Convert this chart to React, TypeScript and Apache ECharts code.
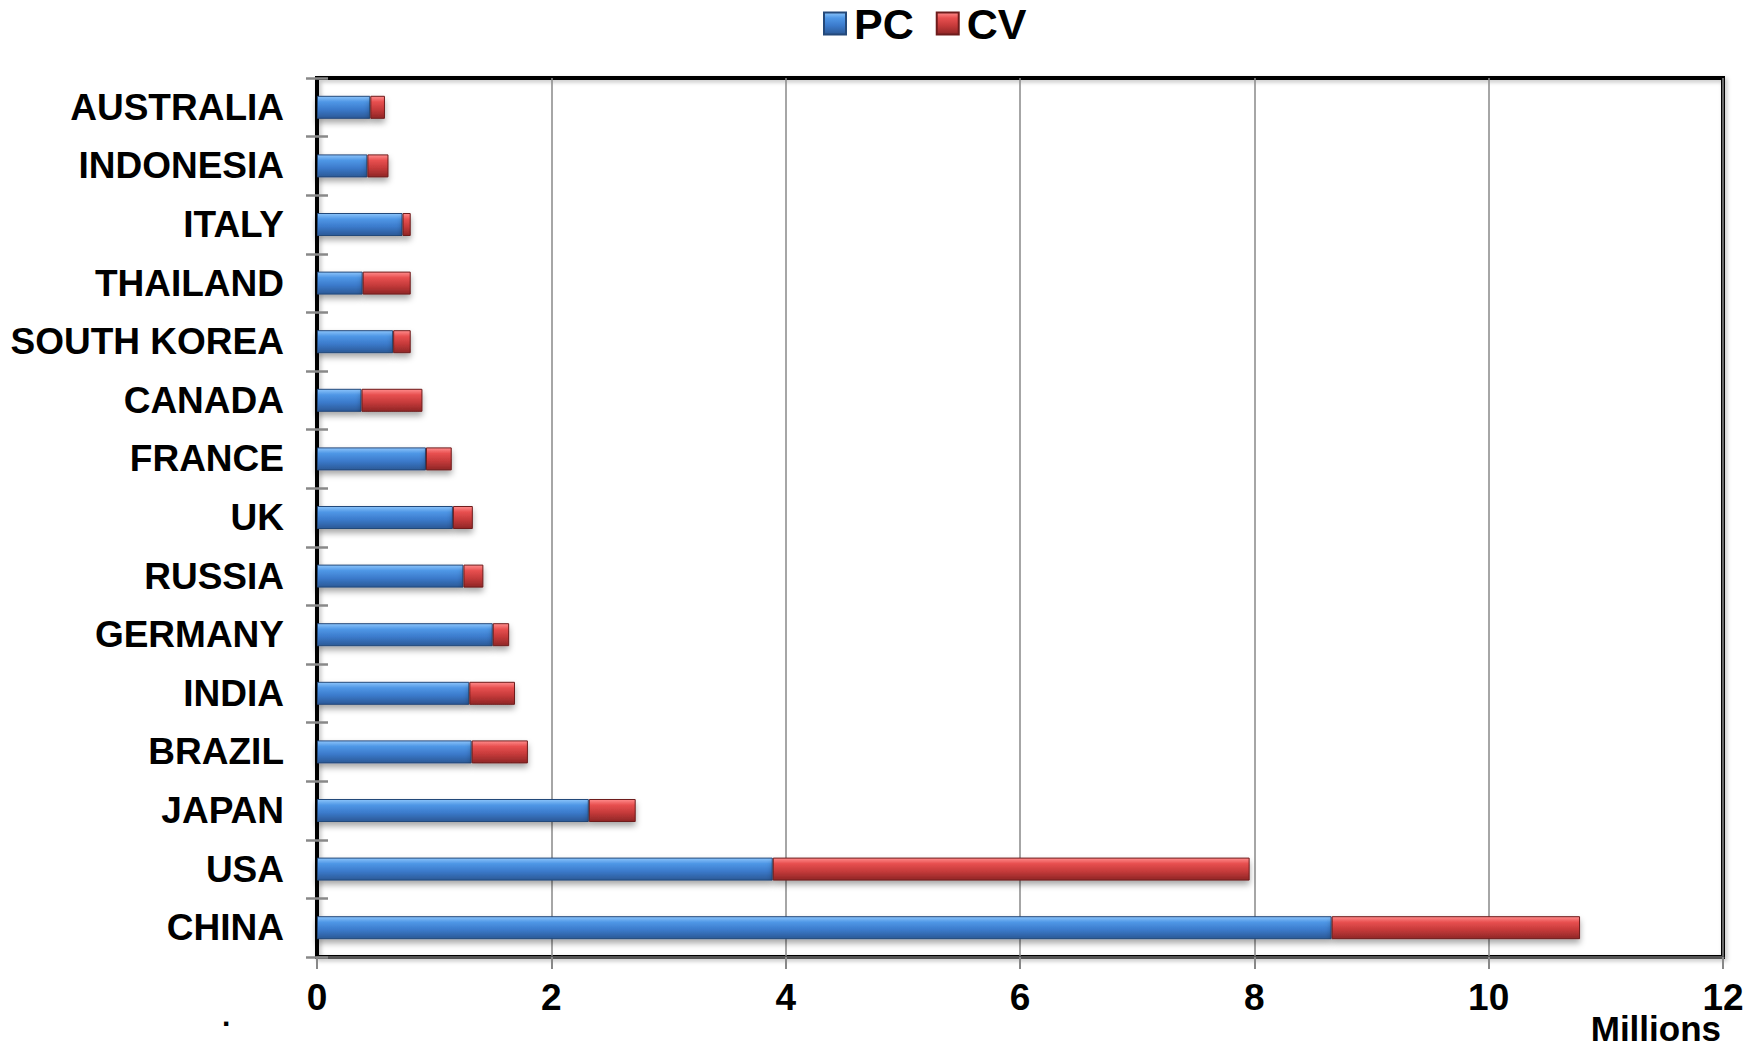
import React, { useEffect, useRef } from "react";
import * as echarts from "echarts";

const categories = [
  "CHINA", "USA", "JAPAN", "BRAZIL", "INDIA", "GERMANY", "RUSSIA", "UK",
  "FRANCE", "CANADA", "SOUTH KOREA", "THAILAND", "ITALY", "INDONESIA", "AUSTRALIA",
];
const pcValues = [8.66, 3.89, 2.32, 1.32, 1.3, 1.5, 1.25, 1.16, 0.93, 0.38, 0.65, 0.39, 0.73, 0.43, 0.455];
const cvValues = [2.12, 4.07, 0.4, 0.48, 0.39, 0.14, 0.17, 0.17, 0.22, 0.52, 0.15, 0.41, 0.07, 0.18, 0.125];
const xTicks = [0, 2, 4, 6, 8, 10, 12];

const FONT = "Liberation Sans, Arial, sans-serif";

const blue = new echarts.graphic.LinearGradient(0, 0, 0, 1, [
  { offset: 0, color: "#8cc4fa" },
  { offset: 0.25, color: "#4f97e6" },
  { offset: 0.6, color: "#3b7acb" },
  { offset: 1, color: "#2b5996" },
]);
const red = new echarts.graphic.LinearGradient(0, 0, 0, 1, [
  { offset: 0, color: "#ff8c8c" },
  { offset: 0.25, color: "#e85050" },
  { offset: 0.6, color: "#c53a3a" },
  { offset: 1, color: "#8f2626" },
]);

export default function App() {
  const ref = useRef<HTMLDivElement>(null);
  useEffect(() => {
    const chart = echarts.init(ref.current!, null, { renderer: "svg" });
    const yBase = {
      type: "category" as const,
      data: categories,
    };
    chart.setOption({
      animation: false,
      backgroundColor: "#fff",
      legend: {
        left: 818,
        top: -3,
        itemWidth: 22,
        itemHeight: 22,
        itemGap: 22,
        icon: "rect",
        textStyle: { fontFamily: FONT, fontWeight: "bold", fontSize: 43, color: "#000", padding: [0, 0, 0, 3] },
        data: ["PC", "CV"],
      },
      grid: {
        left: 317,
        right: 35,
        top: 78,
        bottom: 93,
        show: true,
        borderColor: "#000",
        borderWidth: 4,
        shadowColor: "rgba(0,0,0,0.25)",
        shadowBlur: 4,
        shadowOffsetX: 2,
        shadowOffsetY: 2,
      },
      xAxis: {
        type: "value",
        min: 0,
        max: 12,
        interval: 2,
        axisLine: { show: true, lineStyle: { color: "#555", width: 3 } },
        axisTick: { show: true, length: 12, lineStyle: { color: "#888", width: 2 } },
        splitLine: { show: true, lineStyle: { color: "#888", width: 1.5 } },
        axisLabel: {
          margin: 25,
          fontFamily: FONT,
          fontWeight: "bold",
          fontSize: 37,
          lineHeight: 30,
          color: "#000",
          formatter: (v: number) => (xTicks.includes(v) ? String(v) : ""),
        },
      },
      yAxis: [
        {
          ...yBase,
          axisLine: { show: true, lineStyle: { color: "#000", width: 4 } },
          axisTick: { show: true, length: 11, lineStyle: { color: "#888", width: 2.5 } },
          axisLabel: {
            margin: 33,
            fontFamily: FONT,
            fontWeight: "bold",
            fontSize: 37,
            color: "#000",
          },
        },
        {
          ...yBase,
          position: "left",
          axisLine: { show: false },
          axisTick: { show: true, inside: true, length: 11, lineStyle: { color: "#888", width: 2.5 } },
          axisLabel: { show: false },
        },
      ],
      series: [
        {
          name: "PC",
          type: "bar",
          stack: "total",
          data: pcValues,
          barWidth: 23,
          itemStyle: {
            color: blue,
            borderColor: "#24497a",
            borderWidth: 1,
            shadowColor: "rgba(0,0,0,0.35)",
            shadowBlur: 6,
            shadowOffsetY: 4,
          },
        },
        {
          name: "CV",
          type: "bar",
          stack: "total",
          data: cvValues,
          barWidth: 23,
          itemStyle: {
            color: red,
            borderColor: "#6e1c1c",
            borderWidth: 1,
            shadowColor: "rgba(0,0,0,0.35)",
            shadowBlur: 6,
            shadowOffsetY: 4,
          },
        },
      ],
      graphic: [
        {
          type: "text",
          right: 37,
          top: 1011,
          style: { text: "Millions", fontFamily: FONT, fontWeight: "bold", fontSize: 35, lineHeight: 30, fill: "#000" },
        },
        {
          type: "text",
          left: 222,
          top: 1000,
          style: { text: ".", fontFamily: FONT, fontWeight: "bold", fontSize: 30, fill: "#000" },
        },
      ],
    });
    return () => chart.dispose();
  }, []);
  return (
    <div style={{ position: "absolute", left: 0, top: 0, width: 1758, height: 1050, background: "#fff" }}>
      <div ref={ref} style={{ width: 1758, height: 1050 }} />
    </div>
  );
}
